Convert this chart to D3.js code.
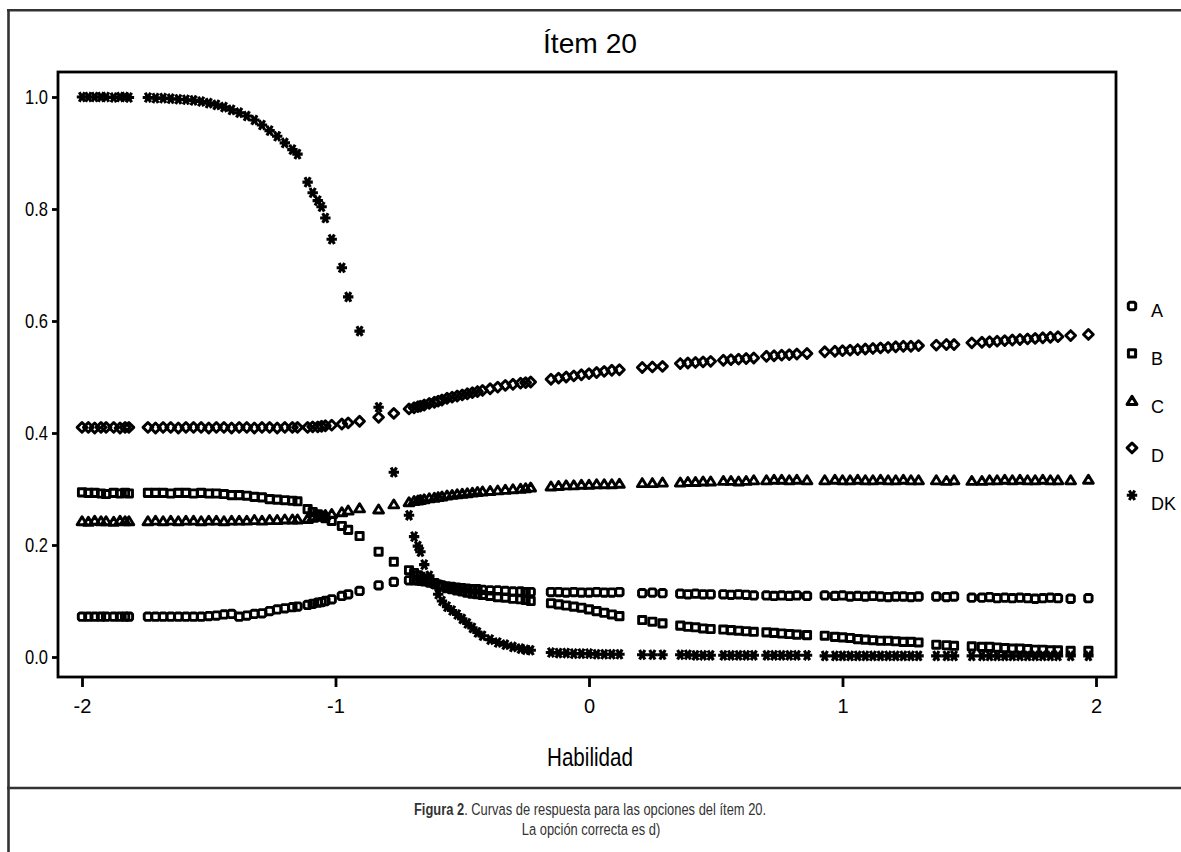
<!DOCTYPE html>
<html>
<head>
<meta charset="utf-8">
<script src="https://cdnjs.cloudflare.com/ajax/libs/d3/7.8.5/d3.min.js"></script>
<style>
body { margin: 0; background: #fff; }
text { font-family: "Liberation Sans", Arial, sans-serif; }
</style>
</head>
<body>
<svg id="chart" width="1181" height="852"></svg>
<script>
var options = ["A", "B", "C", "D", "DK"];

// ability values of the plotted points (shared by every option)
var thetas = [
  -2.00, -1.975, -1.95, -1.925, -1.905, -1.875, -1.85, -1.83, -1.815,
  -1.74, -1.71, -1.68, -1.65, -1.62, -1.59, -1.56, -1.53, -1.50, -1.47, -1.44, -1.41, -1.38, -1.35, -1.32, -1.29, -1.26, -1.23, -1.20, -1.17, -1.15,
  -1.11, -1.09, -1.07, -1.055, -1.04, -1.015, -0.975, -0.95, -0.905,
  -0.83, -0.77,
  -0.71, -0.69, -0.675, -0.665, -0.65, -0.63, -0.61, -0.595, -0.58, -0.56, -0.54, -0.52, -0.50, -0.48, -0.46, -0.44, -0.42, -0.39, -0.36, -0.33, -0.30, -0.27, -0.25, -0.23,
  -0.15, -0.12, -0.09, -0.06, -0.03, 0.00, 0.03, 0.06, 0.09, 0.12,
  0.21, 0.25, 0.29,
  0.36, 0.39, 0.42, 0.45, 0.48, 0.53, 0.56, 0.59, 0.62, 0.65,
  0.70, 0.73, 0.76, 0.79, 0.82, 0.86,
  0.93, 0.97, 1.00, 1.03, 1.06, 1.09, 1.12, 1.15, 1.18, 1.21, 1.24, 1.27, 1.30,
  1.37, 1.41, 1.44,
  1.51, 1.55, 1.58, 1.61, 1.64, 1.67, 1.70, 1.73, 1.76, 1.79, 1.82, 1.85,
  1.90, 1.97
];

var probA = [
  0.072, 0.072, 0.072, 0.072, 0.072, 0.072, 0.072, 0.072, 0.072,
  0.072, 0.072, 0.072, 0.072, 0.072, 0.072, 0.072, 0.072, 0.073, 0.074, 0.076, 0.077, 0.072, 0.074, 0.077, 0.078, 0.082, 0.085, 0.087, 0.089, 0.090,
  0.093, 0.095, 0.097, 0.098, 0.100, 0.103, 0.109, 0.112, 0.118,
  0.128, 0.134,
  0.137, 0.137, 0.137, 0.136, 0.135, 0.133, 0.131, 0.129, 0.128, 0.126, 0.125, 0.124, 0.123, 0.122, 0.121, 0.121, 0.120, 0.119, 0.119, 0.118, 0.117, 0.117, 0.116, 0.116,
  0.116, 0.116, 0.115, 0.116, 0.115, 0.115, 0.116, 0.115, 0.115, 0.116,
  0.114, 0.115, 0.114,
  0.113, 0.112, 0.113, 0.112, 0.112, 0.112, 0.111, 0.112, 0.111, 0.110,
  0.110, 0.109, 0.110, 0.109, 0.110, 0.109,
  0.110, 0.109, 0.110, 0.108, 0.109, 0.108, 0.109, 0.108, 0.107, 0.108, 0.108, 0.107, 0.108,
  0.108, 0.107, 0.108,
  0.106, 0.106, 0.107, 0.105, 0.106, 0.105, 0.106, 0.105, 0.104, 0.105, 0.106, 0.105,
  0.104, 0.105
];

var probB = [
  0.294, 0.293, 0.293, 0.292, 0.291, 0.293, 0.292, 0.293, 0.292,
  0.293, 0.293, 0.293, 0.292, 0.293, 0.293, 0.292, 0.293, 0.292, 0.292, 0.291, 0.289, 0.289, 0.288, 0.286, 0.285, 0.282, 0.281, 0.280, 0.279, 0.278,
  0.264, 0.259, 0.255, 0.252, 0.248, 0.243, 0.234, 0.227, 0.216,
  0.188, 0.170,
  0.155, 0.150, 0.146, 0.143, 0.140, 0.136, 0.132, 0.129, 0.126, 0.123, 0.121, 0.119, 0.117, 0.115, 0.113, 0.112, 0.111, 0.109, 0.107, 0.106, 0.104, 0.103, 0.102, 0.100,
  0.096, 0.094, 0.092, 0.090, 0.088, 0.085, 0.082, 0.079, 0.076, 0.073,
  0.066, 0.063, 0.060,
  0.056, 0.054, 0.053, 0.051, 0.050, 0.049, 0.048, 0.047, 0.046, 0.045,
  0.044, 0.043, 0.042, 0.041, 0.040, 0.039,
  0.038, 0.036, 0.035, 0.034, 0.032, 0.031, 0.030, 0.029, 0.029, 0.028, 0.027, 0.027, 0.026,
  0.022, 0.021, 0.020,
  0.019, 0.018, 0.018, 0.017, 0.016, 0.015, 0.015, 0.014, 0.013, 0.013, 0.012, 0.012,
  0.011, 0.011
];

var probC = [
  0.243, 0.242, 0.244, 0.243, 0.243, 0.242, 0.244, 0.243, 0.243,
  0.243, 0.244, 0.243, 0.244, 0.243, 0.244, 0.244, 0.243, 0.244, 0.244, 0.243, 0.244, 0.244, 0.244, 0.245, 0.244, 0.245, 0.245, 0.246, 0.246, 0.246,
  0.247, 0.249, 0.251, 0.252, 0.254, 0.256, 0.259, 0.262, 0.266,
  0.264, 0.273,
  0.277, 0.279, 0.280, 0.281, 0.282, 0.284, 0.285, 0.286, 0.287, 0.289, 0.290, 0.291, 0.292, 0.293, 0.294, 0.295, 0.296, 0.297, 0.298, 0.299, 0.300, 0.301, 0.302, 0.303,
  0.305, 0.306, 0.307, 0.307, 0.308, 0.308, 0.309, 0.309, 0.309, 0.310,
  0.311, 0.311, 0.312,
  0.312, 0.313, 0.313, 0.314, 0.314, 0.315, 0.315, 0.314, 0.315, 0.316,
  0.316, 0.317, 0.317, 0.316, 0.317, 0.316,
  0.316, 0.317, 0.316, 0.316, 0.317, 0.316, 0.316, 0.317, 0.316, 0.316, 0.317, 0.316, 0.316,
  0.316, 0.315, 0.316,
  0.315, 0.315, 0.316, 0.316, 0.317, 0.316, 0.317, 0.316, 0.316, 0.317, 0.316, 0.316,
  0.316, 0.317
];

var probD = [
  0.410, 0.410, 0.409, 0.410, 0.410, 0.410, 0.409, 0.410, 0.410,
  0.410, 0.409, 0.410, 0.410, 0.409, 0.410, 0.410, 0.410, 0.409, 0.410, 0.410, 0.409, 0.410, 0.410, 0.409, 0.410, 0.410, 0.409, 0.410, 0.410, 0.410,
  0.410, 0.411, 0.411, 0.412, 0.413, 0.414, 0.416, 0.418, 0.421,
  0.428, 0.435,
  0.443, 0.445, 0.447, 0.448, 0.450, 0.453, 0.455, 0.457, 0.459, 0.462, 0.464, 0.466, 0.468, 0.470, 0.472, 0.474, 0.476, 0.479, 0.482, 0.485, 0.487, 0.489, 0.490, 0.491,
  0.496, 0.498, 0.500, 0.502, 0.504, 0.506, 0.508, 0.510, 0.512, 0.513,
  0.517, 0.518, 0.519,
  0.524, 0.525, 0.526, 0.527, 0.528, 0.530, 0.531, 0.532, 0.533, 0.534,
  0.537, 0.538, 0.539, 0.540, 0.541, 0.542,
  0.545, 0.546, 0.547, 0.548, 0.549, 0.550, 0.551, 0.552, 0.553, 0.554, 0.555, 0.555, 0.556,
  0.557, 0.558, 0.558,
  0.561, 0.562, 0.563, 0.564, 0.565, 0.566, 0.567, 0.568, 0.569, 0.570, 0.571, 0.572,
  0.574, 0.576
];

var probDK = [
  1.000, 1.000, 1.000, 1.000, 1.000, 0.999, 1.000, 1.000, 0.999,
  0.999, 0.998, 0.998, 0.997, 0.996, 0.995, 0.994, 0.992, 0.989, 0.986, 0.982, 0.977, 0.972, 0.966, 0.959, 0.950, 0.940, 0.930, 0.918, 0.906, 0.898,
  0.848, 0.829, 0.815, 0.804, 0.784, 0.746, 0.695, 0.643, 0.582,
  0.446, 0.330,
  0.253, 0.215, 0.198, 0.188, 0.165, 0.145, 0.130, 0.112, 0.100, 0.090, 0.083, 0.076, 0.068, 0.060, 0.052, 0.044, 0.038, 0.031, 0.026, 0.022, 0.018, 0.015, 0.013, 0.012,
  0.008, 0.007, 0.007, 0.006, 0.006, 0.006, 0.005, 0.005, 0.005, 0.005,
  0.004, 0.004, 0.004,
  0.004, 0.004, 0.003, 0.003, 0.003, 0.003, 0.003, 0.003, 0.003, 0.003,
  0.003, 0.003, 0.003, 0.003, 0.003, 0.003,
  0.002, 0.002, 0.002, 0.002, 0.002, 0.002, 0.002, 0.002, 0.002, 0.002, 0.002, 0.002, 0.002,
  0.002, 0.002, 0.002,
  0.002, 0.002, 0.002, 0.002, 0.002, 0.002, 0.002, 0.002, 0.002, 0.002, 0.002, 0.002,
  0.002, 0.002
];

var yTicks = [0.0, 0.2, 0.4, 0.6, 0.8, 1.0];
var xTicks = [-2, -1, 0, 1, 2];

var svg = d3.select("#chart");

var x = d3.scaleLinear().domain([-2, 2]).range([82, 1096]);
var y = d3.scaleLinear().domain([0, 1]).range([657, 97]);

function symbolPath(opt) {
  if (opt == "A") return "M-2.4,-3.7H2.4L3.7,-2.4V2.4L2.4,3.7H-2.4L-3.7,2.4V-2.4Z";
  if (opt == "B") return "M-3.6,-3.6H3.6V3.6H-3.6Z";
  if (opt == "C") return "M0,-4.2L4.9,3.8H-4.9Z";
  if (opt == "D") return "M0,-4.9L4.9,0L0,4.9L-4.9,0Z";
  return "M-5.2,0H5.2M-2.7,-4.8L2.7,4.8M-2.7,4.8L2.7,-4.8";
}

var series = [probA, probB, probC, probD, probDK];

series.forEach(function(vals, i) {
  svg.append("g")
      .attr("class", "series-" + options[i])
    .selectAll("path")
      .data(vals)
    .enter().append("path")
      .attr("d", symbolPath(options[i]))
      .attr("transform", function(d, j) { return "translate(" + x(thetas[j]) + "," + y(d) + ")"; })
      .attr("fill", "none")
      .attr("stroke", "black")
      .attr("stroke-linejoin", "round")
      .attr("stroke-width", options[i] == "DK" ? 3.1 : 2.9);
});

// plot box
svg.append("rect")
    .attr("x", 58)
    .attr("y", 72)
    .attr("width", 1116 - 58)
    .attr("height", 677 - 72)
    .attr("fill", "none")
    .attr("stroke", "black")
    .attr("stroke-width", 2.8);

var yAxis = svg.append("g")
    .attr("transform", "translate(58,0)")
    .call(d3.axisLeft(y).tickValues(yTicks).tickFormat(d3.format(".1f")).tickSize(6).tickPadding(4));
yAxis.select(".domain").remove();
yAxis.selectAll("line").attr("stroke", "black").attr("stroke-width", 2.8);
yAxis.selectAll("text")
    .attr("fill", "black")
    .attr("font-size", "21px")
    .attr("textLength", 23)
    .attr("lengthAdjust", "spacingAndGlyphs");

var xAxis = svg.append("g")
    .attr("transform", "translate(0,677)")
    .call(d3.axisBottom(x).tickValues(xTicks).tickFormat(function(d) { return String(d); }).tickSize(10).tickPadding(12));
xAxis.select(".domain").remove();
xAxis.selectAll("line").attr("stroke", "black").attr("stroke-width", 2.8);
xAxis.selectAll("text")
    .attr("fill", "black")
    .attr("font-size", "20px");

svg.append("text")
    .text("Ítem 20")
    .attr("x", 543)
    .attr("y", 53)
    .attr("font-size", "28px")
    .attr("textLength", 94)
    .attr("lengthAdjust", "spacingAndGlyphs")
    .attr("fill", "black");

svg.append("text")
    .text("Habilidad")
    .attr("x", 547)
    .attr("y", 766)
    .attr("font-size", "26px")
    .attr("textLength", 86)
    .attr("lengthAdjust", "spacingAndGlyphs")
    .attr("fill", "black");

// legend
options.forEach(function(opt, i) {
  svg.append("path")
      .attr("d", symbolPath(opt))
      .attr("transform", "translate(1132," + (306 + 47.3 * i) + ")")
      .attr("fill", "none")
      .attr("stroke", "black")
      .attr("stroke-linejoin", "round")
      .attr("stroke-width", 3);
  svg.append("text")
      .text(opt)
      .attr("x", 1151)
      .attr("y", 317 + 48.2 * i)
      .attr("font-size", "18px")
      .attr("fill", "black");
});

// outer figure frame
var frameColor = "#333";
svg.append("line").attr("x1", 8.5).attr("x2", 8.5).attr("y1", 9).attr("y2", 852)
    .attr("stroke", frameColor).attr("stroke-width", 2.6);
svg.append("line").attr("x1", 7).attr("x2", 1181).attr("y1", 10.3).attr("y2", 10.3)
    .attr("stroke", frameColor).attr("stroke-width", 2.6);
svg.append("line").attr("x1", 7).attr("x2", 1181).attr("y1", 788).attr("y2", 788)
    .attr("stroke", frameColor).attr("stroke-width", 2.6);

// caption, squeezed horizontally like the narrow original face
var cap = svg.append("text")
    .attr("transform", "translate(590,815) scale(0.76,1)")
    .attr("text-anchor", "middle")
    .attr("font-size", "17px")
    .attr("fill", "#333");
cap.append("tspan").attr("font-weight", "bold").text("Figura 2");
cap.append("tspan").text(". Curvas de respuesta para las opciones del ítem 20.");

svg.append("text")
    .text("La opción correcta es d)")
    .attr("transform", "translate(591,835) scale(0.76,1)")
    .attr("text-anchor", "middle")
    .attr("font-size", "17px")
    .attr("fill", "#333");
</script>
</body>
</html>
